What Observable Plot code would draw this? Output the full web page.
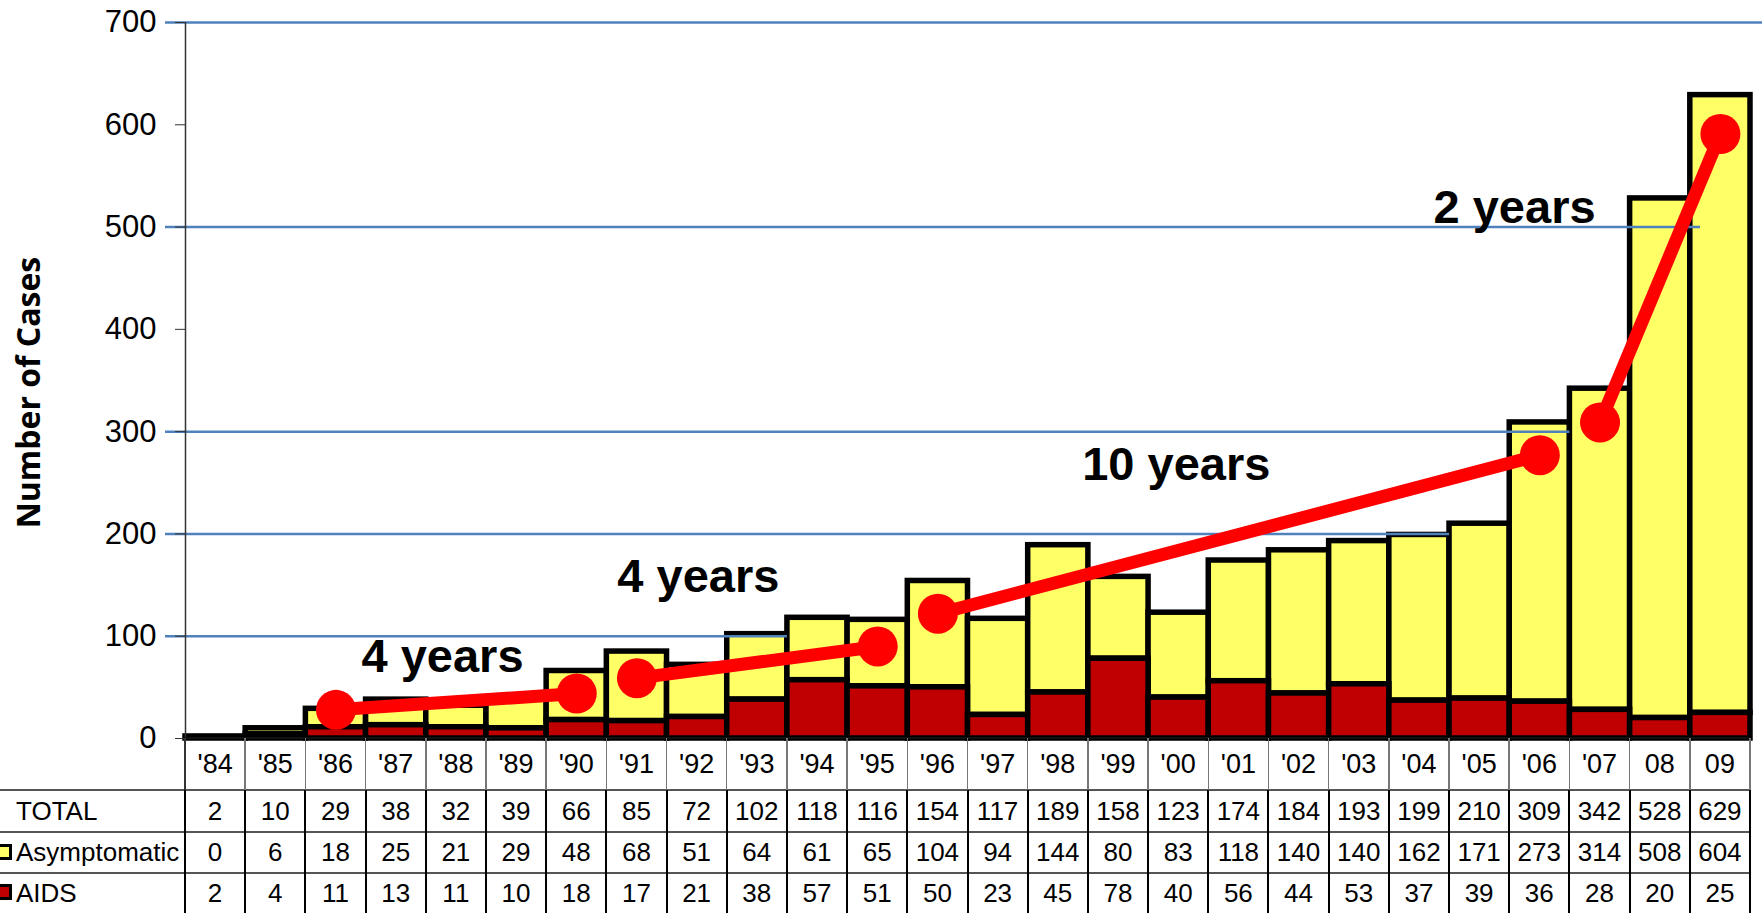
<!DOCTYPE html>
<html>
<head>
<meta charset="utf-8">
<script src="https://cdn.jsdelivr.net/npm/d3@7"></script>
<script src="https://cdn.jsdelivr.net/npm/@observablehq/plot@0.6"></script>
<style>
  html, body { margin: 0; padding: 0; background: #fff; }
  #wrap { position: relative; width: 1762px; height: 913px; overflow: hidden;
          font-family: "Liberation Sans", Arial, sans-serif; background: #fff; }
  #wrap > svg { position: absolute; left: 0; top: 0; }
  .cell { position: absolute; box-sizing: border-box; display: flex; align-items: center;
          justify-content: center; color: #000; white-space: nowrap; }
  .line { position: absolute; }
</style>
</head>
<body>
<div id="wrap"></div>
<script>
// ---- data ----
const years = ["'84","'85","'86","'87","'88","'89","'90","'91","'92","'93","'94","'95","'96",
               "'97","'98","'99","'00","'01","'02","'03","'04","'05","'06","'07","08","09"];
const totals = [2,10,29,38,32,39,66,85,72,102,118,116,154,117,189,158,123,174,184,193,199,210,309,342,528,629];
const asymptomatic = [0,6,18,25,21,29,48,68,51,64,61,65,104,94,144,80,83,118,140,140,162,171,273,314,508,604];
const aids = [2,4,11,13,11,10,18,17,21,38,57,51,50,23,45,78,40,56,44,53,37,39,36,28,20,25];

const rowLabels = ["TOTAL", "Asymptomatic", "AIDS"];

const yTicks = [0,100,200,300,400,500,600,700];
const gridValues = [100, 200, 300, 500, 700];
const gridEnds = [10, 21, 23, 25.17, 26.2];   // in year-column units, where each line stops

const trendYears = ["'86","'90","'91","'95","'96","'06","'07","09"];
const trendValues = [28, 44, 59, 90, 122, 277, 309, 591];
const trendSegment = [1, 1, 2, 2, 3, 3, 4, 4];

const annoLabels = ["4 years", "4 years", "10 years", "2 years"];
const annoCols = [4.27, 8.52, 16.46, 22.08];
const annoValues = [65, 143, 253, 504];

// ---- derived tables ----
const bars = years.map((yr, i) => ({i, year: yr, aids: aids[i], asym: asymptomatic[i], total: totals[i]}));
const trend = trendYears.map((yr, k) => ({col: years.indexOf(yr) + 0.5, value: trendValues[k], seg: trendSegment[k]}));
const grid = gridValues.map((v, k) => ({v, to: gridEnds[k]}));
const annos = annoLabels.map((t, k) => ({t, col: annoCols[k], v: annoValues[k]}));

const YELLOW = "#FFFF66", DARKRED = "#C00000", RED = "#FF0000", GRID = "#4F81BD";

const plot = Plot.plot({
  width: 1762,
  height: 913,
  marginLeft: 185,
  marginRight: 12,
  marginTop: 22,
  marginBottom: 175,
  style: {fontFamily: "'Liberation Sans', Arial, sans-serif", background: "transparent", color: "#000", overflow: "visible"},
  x: {domain: [0, years.length], axis: null},
  y: {domain: [0, 700]},
  marks: [
    Plot.rect(bars, {x1: "i", x2: d => d.i + 1, y1: "aids", y2: d => d.aids + d.asym,
      fill: YELLOW, stroke: "#000", strokeWidth: 5.5}),
    Plot.rect(bars, {x1: "i", x2: d => d.i + 1, y1: 0, y2: "aids",
      fill: DARKRED, stroke: "#000", strokeWidth: 5.5}),
    Plot.ruleY(grid, {y: "v", x1: 0, x2: "to", insetLeft: -20, stroke: GRID, strokeWidth: 2.5}),
    Plot.ruleX([0], {y1: 0, y2: 700, stroke: "#333", strokeWidth: 1.5}),
    Plot.axisY({ticks: yTicks, tickSize: 10, tickPadding: 19, fontSize: 31, label: null, stroke: "#333"}),
    Plot.line(trend, {x: "col", y: "value", z: "seg", stroke: RED, strokeWidth: 13, strokeLinecap: "butt"}),
    Plot.dot(trend, {x: "col", y: "value", r: 20, fill: RED}),
    Plot.text(annos, {x: "col", y: "v", text: "t", fontSize: 47, fontWeight: "bold",
      textAnchor: "middle", lineAnchor: "bottom", fill: "#000"}),
    Plot.text(["Number of Cases"], {frameAnchor: "left", textAnchor: "middle", lineAnchor: "middle",
      dx: -156, dy: 12, rotate: -90,
      fontSize: 32, fontWeight: "bold", fontFamily: "'Open Sans', sans-serif", fill: "#000"})
  ]
});

const wrap = document.getElementById("wrap");
wrap.appendChild(plot);

// ---- data table under the chart, aligned with the x scale ----
const xs = plot.scale("x");
const px = i => xs.apply(i);
const rowEdges = [738, 790, 832, 873, 913];

function add(cls, css, text) {
  const d = document.createElement("div");
  d.className = cls;
  Object.assign(d.style, css);
  if (text !== undefined) d.textContent = text;
  wrap.appendChild(d);
  return d;
}

const rowsValues = [totals, asymptomatic, aids];
// cell texts
years.forEach((yr, i) => {
  const l = px(i), w = px(i + 1) - px(i);
  add("cell", {left: l + "px", top: rowEdges[0] + "px", width: w + "px",
    height: (rowEdges[1] - rowEdges[0]) + "px", fontSize: "27px"}, yr);
  rowsValues.forEach((vals, r) => {
    add("cell", {left: l + "px", top: rowEdges[r + 1] + "px", width: w + "px",
      height: (rowEdges[r + 2] - rowEdges[r + 1]) + "px", fontSize: "26px"}, String(vals[i]));
  });
});
// row labels
const legendFill = [null, YELLOW, DARKRED];
rowLabels.forEach((lab, r) => {
  const top = rowEdges[r + 1], h = rowEdges[r + 2] - top;
  add("cell", {left: "16px", top: top + "px", height: h + "px", fontSize: "26px",
    justifyContent: "flex-start"}, lab);
  if (legendFill[r]) {
    add("line", {left: "-4px", top: (top + h / 2 - 9) + "px", width: "16px", height: "16px",
      background: legendFill[r], border: "3px solid #000", boxSizing: "border-box"});
  }
});
// horizontal lines
const right = px(years.length);
add("line", {left: px(0) + "px", top: (rowEdges[0] - 1) + "px", width: (right - px(0)) + "px",
  height: "2px", background: "#111"});
[1, 2, 3].forEach(k => add("line", {left: "0px", top: (rowEdges[k] - 1) + "px",
  width: right + "px", height: "2px", background: "#555"}));
// vertical lines
for (let i = 0; i <= years.length; i++) {
  const x = px(i);
  add("line", {left: (x - 0.75) + "px", top: rowEdges[0] + "px", width: "1.5px",
    height: (rowEdges[1] - rowEdges[0]) + "px", background: i === 0 ? "#333" : "#777"});
  add("line", {left: (x - 1) + "px", top: rowEdges[1] + "px", width: "2px",
    height: (rowEdges[4] - rowEdges[1]) + "px", background: "#000"});
}
</script>
</body>
</html>
